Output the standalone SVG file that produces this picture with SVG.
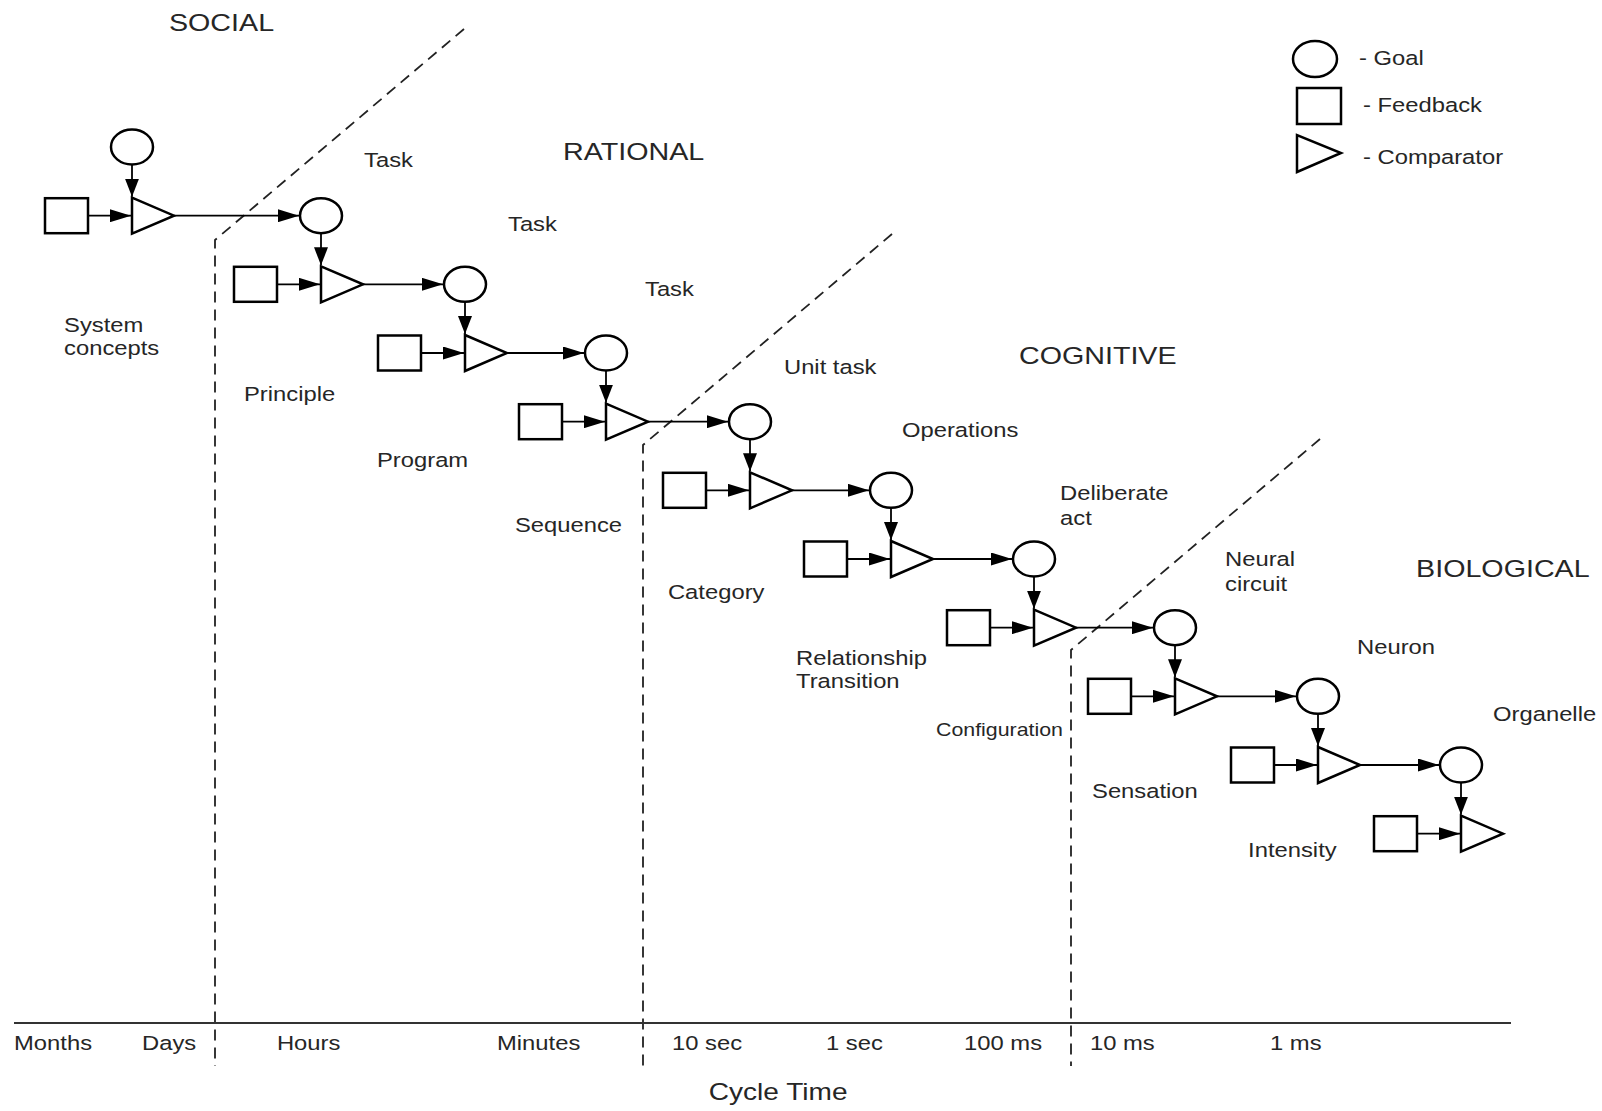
<svg xmlns="http://www.w3.org/2000/svg" width="1602" height="1111" viewBox="0 0 1602 1111">
<style>
.shape{fill:#fff;stroke:#000;stroke-width:2.5}
.conn{fill:none;stroke:#000;stroke-width:1.8}
.dash{fill:none;stroke:#222;stroke-width:1.8;stroke-dasharray:11 7}
.axis{fill:none;stroke:#333;stroke-width:2}
text{font-family:"Liberation Sans",Arial,sans-serif;font-size:19.5px;fill:#262626}
text.title{font-size:23.5px}
text.ct{font-size:23px}
text.small{font-size:17.5px}
</style>
<defs>
<marker id="ah" markerUnits="userSpaceOnUse" markerWidth="21" markerHeight="13" refX="21" refY="6.5" orient="auto"><path d="M0,0 L21,6.5 L0,13 z" fill="#000"/></marker>
<marker id="av" markerUnits="userSpaceOnUse" markerWidth="18" markerHeight="14" refX="18" refY="7" orient="auto"><path d="M0,0 L18,7 L0,14 z" fill="#000"/></marker>
</defs>
<rect width="1602" height="1111" fill="#fff"/>

<g id="boundaries">
<path class="dash" d="M464,29 L215,240 L215,1066"/>
<path class="dash" d="M892,234 L643,445 L643,1066"/>
<path class="dash" d="M1320,439 L1071,650 L1071,1066"/>
<path class="axis" d="M14,1023 L1511,1023"/>
</g>

<g id="connectors">
<path class="conn" marker-end="url(#av)" d="M132,164.5 V196.7"/>
<path class="conn" marker-end="url(#ah)" d="M88,215.7 H131"/>
<path class="conn" marker-end="url(#ah)" d="M174,215.7 H299"/>
<path class="conn" marker-end="url(#av)" d="M321,233.2 V265.3"/>
<path class="conn" marker-end="url(#ah)" d="M277,284.3 H320"/>
<path class="conn" marker-end="url(#ah)" d="M363,284.3 H443"/>
<path class="conn" marker-end="url(#av)" d="M465,301.8 V334"/>
<path class="conn" marker-end="url(#ah)" d="M421,353 H464"/>
<path class="conn" marker-end="url(#ah)" d="M507,353 H584"/>
<path class="conn" marker-end="url(#av)" d="M606,370.5 V402.7"/>
<path class="conn" marker-end="url(#ah)" d="M562,421.7 H605"/>
<path class="conn" marker-end="url(#ah)" d="M648,421.7 H728"/>
<path class="conn" marker-end="url(#av)" d="M750,439.2 V471.3"/>
<path class="conn" marker-end="url(#ah)" d="M706,490.3 H749"/>
<path class="conn" marker-end="url(#ah)" d="M792,490.3 H869"/>
<path class="conn" marker-end="url(#av)" d="M891,507.8 V540"/>
<path class="conn" marker-end="url(#ah)" d="M847,559 H890"/>
<path class="conn" marker-end="url(#ah)" d="M933,559 H1012"/>
<path class="conn" marker-end="url(#av)" d="M1034,576.5 V608.7"/>
<path class="conn" marker-end="url(#ah)" d="M990,627.7 H1033"/>
<path class="conn" marker-end="url(#ah)" d="M1076,627.7 H1153"/>
<path class="conn" marker-end="url(#av)" d="M1175,645.2 V677.3"/>
<path class="conn" marker-end="url(#ah)" d="M1131,696.3 H1174"/>
<path class="conn" marker-end="url(#ah)" d="M1217,696.3 H1296"/>
<path class="conn" marker-end="url(#av)" d="M1318,713.8 V746"/>
<path class="conn" marker-end="url(#ah)" d="M1274,765 H1317"/>
<path class="conn" marker-end="url(#ah)" d="M1360,765 H1439"/>
<path class="conn" marker-end="url(#av)" d="M1461,782.5 V814.7"/>
<path class="conn" marker-end="url(#ah)" d="M1417,833.7 H1460"/>
</g>

<g id="goal-0"><ellipse class="shape" cx="132" cy="147" rx="21" ry="17.5"/></g>
<g id="feedback-0"><rect class="shape" x="45" y="198.2" width="43" height="35"/></g>
<g id="comparator-0"><polygon class="shape" points="132,197.7 132,233.7 174,215.7"/></g>

<g id="goal-1"><ellipse class="shape" cx="321" cy="215.7" rx="21" ry="17.5"/></g>
<g id="feedback-1"><rect class="shape" x="234" y="266.8" width="43" height="35"/></g>
<g id="comparator-1"><polygon class="shape" points="321,266.3 321,302.3 363,284.3"/></g>

<g id="goal-2"><ellipse class="shape" cx="465" cy="284.3" rx="21" ry="17.5"/></g>
<g id="feedback-2"><rect class="shape" x="378" y="335.5" width="43" height="35"/></g>
<g id="comparator-2"><polygon class="shape" points="465,335 465,371 507,353"/></g>

<g id="goal-3"><ellipse class="shape" cx="606" cy="353" rx="21" ry="17.5"/></g>
<g id="feedback-3"><rect class="shape" x="519" y="404.2" width="43" height="35"/></g>
<g id="comparator-3"><polygon class="shape" points="606,403.7 606,439.7 648,421.7"/></g>

<g id="goal-4"><ellipse class="shape" cx="750" cy="421.7" rx="21" ry="17.5"/></g>
<g id="feedback-4"><rect class="shape" x="663" y="472.8" width="43" height="35"/></g>
<g id="comparator-4"><polygon class="shape" points="750,472.3 750,508.3 792,490.3"/></g>

<g id="goal-5"><ellipse class="shape" cx="891" cy="490.3" rx="21" ry="17.5"/></g>
<g id="feedback-5"><rect class="shape" x="804" y="541.5" width="43" height="35"/></g>
<g id="comparator-5"><polygon class="shape" points="891,541 891,577 933,559"/></g>

<g id="goal-6"><ellipse class="shape" cx="1034" cy="559" rx="21" ry="17.5"/></g>
<g id="feedback-6"><rect class="shape" x="947" y="610.2" width="43" height="35"/></g>
<g id="comparator-6"><polygon class="shape" points="1034,609.7 1034,645.7 1076,627.7"/></g>

<g id="goal-7"><ellipse class="shape" cx="1175" cy="627.7" rx="21" ry="17.5"/></g>
<g id="feedback-7"><rect class="shape" x="1088" y="678.8" width="43" height="35"/></g>
<g id="comparator-7"><polygon class="shape" points="1175,678.3 1175,714.3 1217,696.3"/></g>

<g id="goal-8"><ellipse class="shape" cx="1318" cy="696.3" rx="21" ry="17.5"/></g>
<g id="feedback-8"><rect class="shape" x="1231" y="747.5" width="43" height="35"/></g>
<g id="comparator-8"><polygon class="shape" points="1318,747 1318,783 1360,765"/></g>

<g id="goal-9"><ellipse class="shape" cx="1461" cy="765" rx="21" ry="17.5"/></g>
<g id="feedback-9"><rect class="shape" x="1374" y="816.2" width="43" height="35"/></g>
<g id="comparator-9"><polygon class="shape" points="1461,815.7 1461,851.7 1503,833.7"/></g>

<g id="legend">
<ellipse class="shape" cx="1315" cy="59" rx="22" ry="18"/>
<rect class="shape" x="1297" y="88" width="44" height="36"/>
<polygon class="shape" points="1297,135 1297,172 1341,153"/>
</g>

<g id="labels" transform="scale(1.22,1)">
<text class="title" x="138.5" y="31">SOCIAL</text>
<text class="title" x="461.5" y="160">RATIONAL</text>
<text class="title" x="835.2" y="364">COGNITIVE</text>
<text class="title" x="1160.7" y="577">BIOLOGICAL</text>
<text x="298.4" y="167">Task</text>
<text x="416.4" y="231">Task</text>
<text x="528.7" y="296">Task</text>
<text x="52.5" y="332">System</text>
<text x="52.5" y="355">concepts</text>
<text x="200" y="401">Principle</text>
<text x="642.6" y="374">Unit task</text>
<text x="309" y="467">Program</text>
<text x="739.3" y="437">Operations</text>
<text x="868.9" y="500">Deliberate</text>
<text x="868.9" y="525">act</text>
<text x="422.1" y="532">Sequence</text>
<text x="1004.1" y="566">Neural</text>
<text x="1004.1" y="591">circuit</text>
<text x="547.5" y="599">Category</text>
<text x="652.5" y="665">Relationship</text>
<text x="652.5" y="688">Transition</text>
<text x="1112.3" y="654">Neuron</text>
<text x="1223.8" y="721">Organelle</text>
<text class="small" x="767.2" y="736">Configuration</text>
<text x="895.1" y="798">Sensation</text>
<text x="1023" y="857">Intensity</text>
<text x="1113.9" y="65">- Goal</text>
<text x="1117.2" y="112">- Feedback</text>
<text x="1117.2" y="164">- Comparator</text>
<text x="11.5" y="1050">Months</text>
<text x="116.4" y="1050">Days</text>
<text x="227" y="1050">Hours</text>
<text x="407.4" y="1050">Minutes</text>
<text x="550.8" y="1050">10 sec</text>
<text x="677" y="1050">1 sec</text>
<text x="790.2" y="1050">100 ms</text>
<text x="893.4" y="1050">10 ms</text>
<text x="1041" y="1050">1 ms</text>
<text class="ct" x="581" y="1100">Cycle Time</text>
</g>
</svg>
